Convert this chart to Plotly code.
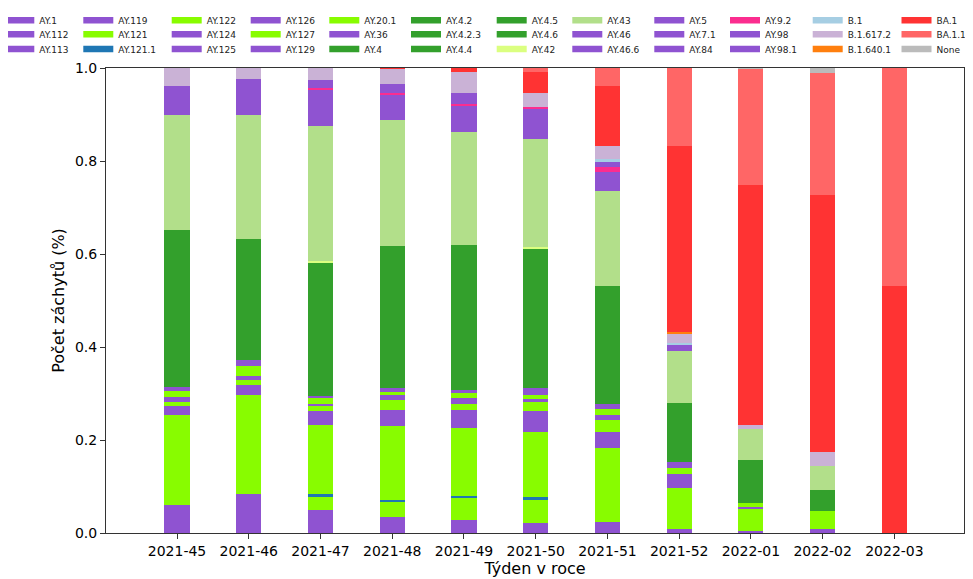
import plotly.graph_objects as go

weeks = ["2021-45", "2021-46", "2021-47", "2021-48", "2021-49", "2021-50",
         "2021-51", "2021-52", "2022-01", "2022-02", "2022-03"]

Z = [0] * 11
ay_1      = [0.061, 0.0845, 0.049, 0.035, 0.029, 0.021, 0.024, 0.009, 0.004, 0.009, 0]
ay_112    = Z
ay_113    = Z
ay_119    = Z
ay_121    = [0, 0, 0.030, 0.032, 0.047, 0.052, 0, 0, 0, 0, 0]
ay_121_1  = [0, 0, 0.004, 0.004, 0.004, 0.004, 0, 0, 0, 0, 0]
ay_122    = [0.192, 0.2115, 0.150, 0.159, 0.146, 0.140, 0.159, 0.087, 0.047, 0.038, 0]
ay_124    = [0.020, 0.022, 0.030, 0.035, 0.039, 0.045, 0.034, 0.031, 0.006, 0, 0]
ay_125    = Z
ay_126    = Z
ay_127    = [0.008, 0.011, 0.011, 0.021, 0.013, 0.019, 0.027, 0.013, 0.0075, 0, 0]
ay_129    = [0.012, 0.009, 0.003, 0.010, 0.013, 0.007, 0.010, 0.013, 0, 0, 0]
ay_20_1   = [0.013, 0.021, 0.014, 0.008, 0.011, 0.008, 0.013, 0, 0, 0, 0]
ay_36     = [0.009, 0.012, 0.003, 0.008, 0.006, 0.0165, 0.010, 0, 0, 0, 0]
ay_4      = [0.337, 0.262, 0.288, 0.306, 0.312, 0.2985, 0.254, 0.126, 0.0925, 0.0455, 0]
ay_4_2    = Z
ay_4_2_3  = Z
ay_4_4    = Z
ay_4_5    = Z
ay_4_6    = Z
ay_42     = [0, 0, 0.003, 0, 0, 0.003, 0, 0, 0, 0, 0]
ay_43     = [0.247, 0.267, 0.290, 0.271, 0.242, 0.234, 0.204, 0.113, 0.066, 0.0525, 0]
ay_46     = [0.062, 0.076, 0.078, 0.052, 0.057, 0.063, 0.042, 0.014, 0, 0, 0]
ay_46_6   = Z
ay_5      = Z
ay_7_1    = Z
ay_84     = Z
ay_9_2    = [0, 0, 0.004, 0.005, 0.004, 0.005, 0.010, 0, 0, 0, 0]
ay_98     = [0, 0, 0.018, 0.020, 0.023, 0, 0.010, 0, 0, 0, 0]
ay_98_1   = Z
b_1       = [0, 0, 0, 0, 0, 0, 0.007, 0.002, 0, 0, 0]
b_1_617_2 = [0.039, 0.024, 0.025, 0.032, 0.045, 0.031, 0.028, 0.021, 0.009, 0.030, 0]
b_1_640_1 = [0, 0, 0, 0, 0, 0, 0, 0.003, 0, 0, 0]
ba_1      = [0, 0, 0, 0.002, 0.009, 0.044, 0.130, 0.401, 0.516, 0.551, 0.532]
ba_1_1    = [0, 0, 0, 0, 0, 0.009, 0.038, 0.167, 0.250, 0.263, 0.468]
none_     = [0, 0, 0, 0, 0, 0, 0, 0, 0.002, 0.011, 0]

PUR = "#8f53d1"
LIME = "#88fc00"
DG = "#33a02c"

series = [
    ("AY.1", ay_1, PUR), ("AY.112", ay_112, PUR), ("AY.113", ay_113, PUR),
    ("AY.119", ay_119, PUR), ("AY.121", ay_121, LIME), ("AY.121.1", ay_121_1, "#1f77b4"),
    ("AY.122", ay_122, LIME), ("AY.124", ay_124, PUR), ("AY.125", ay_125, PUR),
    ("AY.126", ay_126, PUR), ("AY.127", ay_127, LIME), ("AY.129", ay_129, PUR),
    ("AY.20.1", ay_20_1, LIME), ("AY.36", ay_36, PUR), ("AY.4", ay_4, DG),
    ("AY.4.2", ay_4_2, DG), ("AY.4.2.3", ay_4_2_3, DG), ("AY.4.4", ay_4_4, DG),
    ("AY.4.5", ay_4_5, DG), ("AY.4.6", ay_4_6, DG), ("AY.42", ay_42, "#dbff80"),
    ("AY.43", ay_43, "#b2df8a"), ("AY.46", ay_46, PUR), ("AY.46.6", ay_46_6, PUR),
    ("AY.5", ay_5, PUR), ("AY.7.1", ay_7_1, PUR), ("AY.84", ay_84, PUR),
    ("AY.9.2", ay_9_2, "#fb2d8f"), ("AY.98", ay_98, PUR), ("AY.98.1", ay_98_1, PUR),
    ("B.1", b_1, "#a6cee3"), ("B.1.617.2", b_1_617_2, "#cab2d6"),
    ("B.1.640.1", b_1_640_1, "#ff7f0e"), ("BA.1", ba_1, "#ff3333"),
    ("BA.1.1", ba_1_1, "#ff6666"), ("None", none_, "#bbbbbb"),
]

# layout geometry (pixels); the page body adds an 8px offset
OFF = 8
W, H = 973 - OFF, 579 - OFF
L, R, T, B = 106 - OFF, 9, 68 - OFF, 46
PW, PH = W - L - R, H - T - B
col_text_x = [39.3, 118.3, 206.7, 285.7, 364.3, 446, 531.7, 607.3, 689.3, 765, 847.7, 936.5]
row_y = [20.3, 34.3, 49.0]

FONT = "DejaVu Sans"
fig = go.Figure()
legends = {}
for i, (name, vals, col) in enumerate(series):
    c, r = i // 3, i % 3
    key = "legend" if i == 0 else f"legend{i + 1}"
    fig.add_trace(go.Bar(
        x=weeks, y=[v if v else None for v in vals], name=name,
        marker=dict(color=col, line=dict(width=0)),
        width=0.35, legendgroup=name, showlegend=False,
    ))
    # legend entry drawn as a wide flat patch (like the matplotlib legend)
    fig.add_trace(go.Scatter(
        x=[None], y=[None], mode="lines", name=name,
        line=dict(color=col, width=6.5),
        legendgroup=name, legend=key, showlegend=True, hoverinfo="skip",
    ))
    legends[key] = dict(
        x=(col_text_x[c] - OFF - 40 - L) / PW,
        y=(H - B - (row_y[r] - OFF)) / PH,
        xanchor="left", yanchor="middle",
        bgcolor="rgba(0,0,0,0)", borderwidth=0,
        font=dict(family=FONT, size=9, color="#222"),
        itemwidth=30,
    )

fig.update_layout(
    width=W, height=H,
    margin=dict(l=L, r=R, t=T, b=B, autoexpand=False),
    barmode="stack",
    plot_bgcolor="white", paper_bgcolor="white",
    font=dict(family=FONT, size=14, color="black"),
    **legends,
)
fig.update_xaxes(
    type="category", range=[-0.99, 10.97],
    showline=True, mirror=True, linecolor="#333", linewidth=1,
    ticks="outside", ticklen=5, tickcolor="#333",
    showgrid=False, tickfont=dict(size=14),
    title=dict(text="Týden v roce", font=dict(size=16), standoff=2),
)
fig.update_yaxes(
    range=[0, 1], tickvals=[0, 0.2, 0.4, 0.6, 0.8, 1.0], tickformat=".1f",
    showline=True, mirror=True, linecolor="#333", linewidth=1,
    ticks="outside", ticklen=5, tickcolor="#333",
    showgrid=False, zeroline=False, tickfont=dict(size=14),
    title=dict(text="Počet záchytů (%)", font=dict(size=16), standoff=6),
)

fig.write_html("out.html")
